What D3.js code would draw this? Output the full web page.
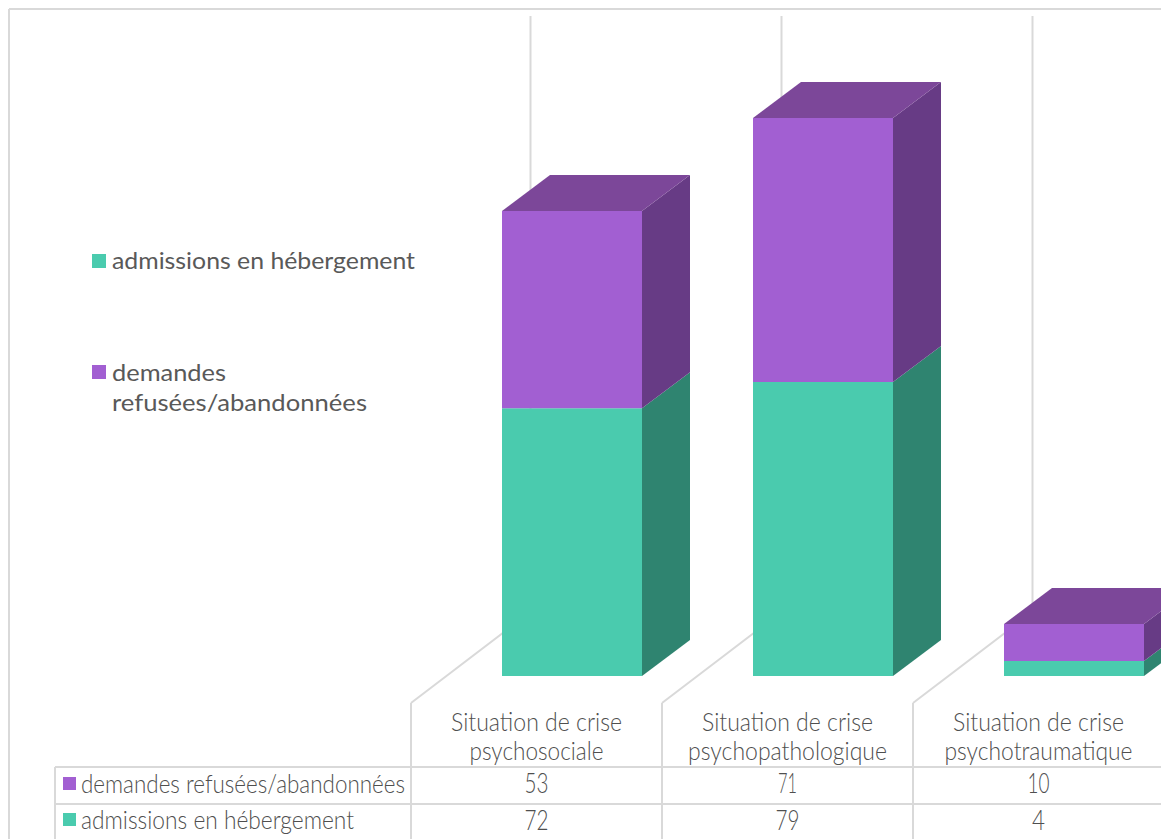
<!DOCTYPE html>
<html lang="fr">
<head>
<meta charset="utf-8">
<title>Admissions en hébergement et demandes refusées</title>
<script src="https://cdn.jsdelivr.net/npm/d3@7/dist/d3.min.js"></script>
<style>
  html, body { margin: 0; padding: 0; background: #fff; overflow: hidden; }
  svg { display: block; }
  text { font-family: Lato, "Noto Sans", sans-serif; fill: #595959; }
  .table-text { font-weight: 300; fill: #4f4f4f; }
</style>
</head>
<body>
<div id="chart"></div>
<script>
// Chart data
const categories = [
  ["Situation de crise", "psychosociale"],
  ["Situation de crise", "psychopathologique"],
  ["Situation de crise", "psychotraumatique"]
];
const seriesKeys = ["admissions", "refused"];
const seriesNames = ["admissions en hébergement", "demandes refusées/abandonnées"];
const admissions = [72, 79, 4];
const refused = [53, 71, 10];
const tableRows = ["refused", "admissions"];

// Layout
const W = 1161, H = 839;
const frameLine = "#d9d9d9";
const palette = {
  admissions: { front: "#4acbae", side: "#2f8470" },
  refused: { front: "#a25fd2", side: "#673b85", top: "#7c4799" }
};
const depth = { dx: 48, dy: -36 };
const barOffset = 91, barWidth = 140;
const wall = { dx: 119.5, dy: -91 };
const floorY = 703;

const x = d3.scaleBand().domain(d3.range(categories.length)).range([411, 1164]);
const y = d3.scaleLinear().domain([0, 150]).range([676, 118]);

const rows = categories.map((_, i) => ({ admissions: admissions[i], refused: refused[i] }));
const stacked = d3.stack().keys(seriesKeys)(rows);

const svg = d3.select("#chart").append("svg").attr("width", W).attr("height", H);
const line = (x1, y1, x2, y2, w = 2) => svg.append("line")
  .attr("x1", x1).attr("y1", y1).attr("x2", x2).attr("y2", y2)
  .attr("stroke", frameLine).attr("stroke-width", w);

// Text fitted to a measured run so the narrow table face keeps its proportions
function label(sel, str, px, py, size, anchor, length, cls) {
  const t = sel.append("text").attr("x", px).attr("y", py)
    .attr("font-size", size).attr("text-anchor", anchor).text(str);
  if (length) t.attr("textLength", length).attr("lengthAdjust", "spacingAndGlyphs");
  if (cls) t.attr("class", cls);
  return t;
}

// Outer frame
line(9, 9, W, 9);
line(9, 9, 9, H);

// Back wall and floor guides
x.domain().forEach(i => {
  const x0 = x(i);
  line(x0, H, x0, floorY);
  line(x0, floorY, x0 + wall.dx, floorY + wall.dy);
  line(x0 + wall.dx, floorY + wall.dy, x0 + wall.dx, 16);
});

// Stacked 3D columns
const poly = (pts, fill) => svg.append("polygon")
  .attr("points", pts.map(p => p.join(",")).join(" ")).attr("fill", fill);

categories.forEach((_, i) => {
  const left = x(i) + barOffset, right = left + barWidth;
  stacked.forEach(layer => {
    const c = palette[layer.key];
    const yBase = y(layer[i][0]), yTop = y(layer[i][1]);
    poly([[right, yBase], [right + depth.dx, yBase + depth.dy],
          [right + depth.dx, yTop + depth.dy], [right, yTop]], c.side);
    poly([[left, yBase], [right, yBase], [right, yTop], [left, yTop]], c.front);
    if (c.top) {
      poly([[left, yTop], [right, yTop], [right + depth.dx, yTop + depth.dy],
            [left + depth.dx, yTop + depth.dy]], c.top);
    }
  });
});

// Side legend
const legend = svg.append("g");
legend.append("rect").attr("x", 92).attr("y", 254).attr("width", 14).attr("height", 14)
  .attr("fill", palette.admissions.front);
label(legend, seriesNames[0], 112, 269, 24, "start", 303);
legend.append("rect").attr("x", 92).attr("y", 365).attr("width", 14).attr("height", 14)
  .attr("fill", palette.refused.front);
label(legend, "demandes", 112, 381, 24, "start", 114);
label(legend, "refusées/abandonnées", 112, 411, 24, "start", 255);

// Data table under the columns
const table = svg.append("g");
const rowLines = [767, 804];
rowLines.forEach(ry => line(55, ry, W, ry));
line(55, 767, 55, H);

const catWidths = [[171, 134], [171, 199], [171, 188]];
const refusedWidths = [24, 19, 22];
const admissionWidths = [24, 24, 13];
categories.forEach((lines, i) => {
  const cx = x(i) + x.bandwidth() / 2;
  lines.forEach((s, k) => label(table, s, cx, 731 + k * 29, 26, "middle", catWidths[i][k], "table-text"));
  label(table, refused[i], cx, 793, 27, "middle", refusedWidths[i], "table-text");
  label(table, admissions[i], cx, 830, 27, "middle", admissionWidths[i], "table-text");
});

const rowY = { refused: 793, admissions: 829 };
const rowWidths = { refused: 324, admissions: 273 };
tableRows.forEach(key => {
  table.append("rect").attr("x", 63).attr("y", rowY[key] - 16).attr("width", 13).attr("height", 13)
    .attr("fill", palette[key].front);
  label(table, seriesNames[seriesKeys.indexOf(key)], 81, rowY[key], 26, "start", rowWidths[key], "table-text");
});
</script>
</body>
</html>
